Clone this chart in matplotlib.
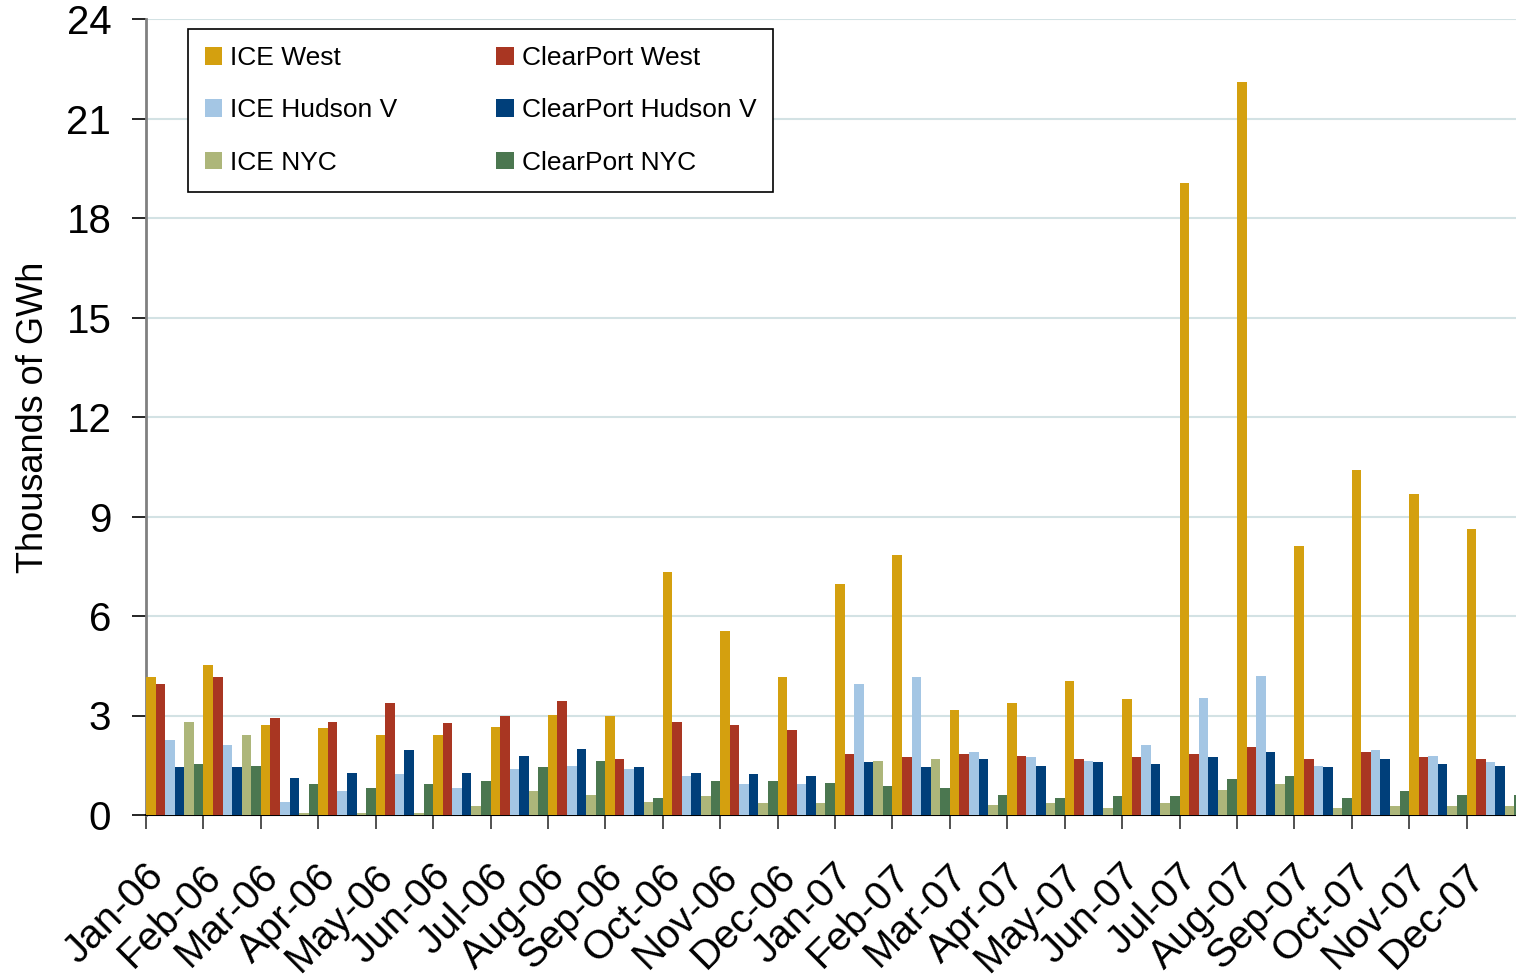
import matplotlib
matplotlib.use("Agg")
import matplotlib.pyplot as plt
import matplotlib.transforms as mtransforms
import numpy as np

plt.rcParams['font.family'] = ['Liberation Sans', 'DejaVu Sans']

# months (categories)
months = ['Jan-06', 'Feb-06', 'Mar-06', 'Apr-06', 'May-06', 'Jun-06',
          'Jul-06', 'Aug-06', 'Sep-06', 'Oct-06', 'Nov-06', 'Dec-06',
          'Jan-07', 'Feb-07', 'Mar-07', 'Apr-07', 'May-07', 'Jun-07',
          'Jul-07', 'Aug-07', 'Sep-07', 'Oct-07', 'Nov-07', 'Dec-07']

# thousands of GWh
ice_west = [4.16, 4.52, 2.71, 2.62, 2.41, 2.41, 2.65, 3.01, 2.98, 7.33, 5.55, 4.16,
            6.96, 7.84, 3.17, 3.38, 4.04, 3.50, 19.05, 22.1, 8.11, 10.40, 9.68, 8.62]
cp_west = [3.95, 4.16, 2.92, 2.80, 3.38, 2.77, 2.98, 3.44, 1.69, 2.80, 2.71, 2.56,
           1.84, 1.75, 1.84, 1.78, 1.69, 1.75, 1.84, 2.05, 1.69, 1.90, 1.75, 1.69]
ice_hudson = [2.26, 2.11, 0.39, 0.72, 1.24, 0.81, 1.39, 1.48, 1.39, 1.18, 0.93, 0.93,
              3.95, 4.16, 1.90, 1.75, 1.63, 2.11, 3.53, 4.19, 1.48, 1.96, 1.78, 1.60]
cp_hudson = [1.45, 1.45, 1.12, 1.27, 1.96, 1.27, 1.78, 1.99, 1.45, 1.27, 1.24, 1.18,
             1.60, 1.45, 1.69, 1.48, 1.60, 1.54, 1.75, 1.90, 1.45, 1.69, 1.54, 1.48]
ice_nyc = [2.80, 2.41, 0.06, 0.06, 0.06, 0.27, 0.72, 0.60, 0.39, 0.57, 0.36, 0.36,
           1.63, 1.69, 0.30, 0.36, 0.21, 0.36, 0.75, 0.93, 0.21, 0.27, 0.27, 0.27]
cp_nyc = [1.54, 1.48, 0.93, 0.81, 0.93, 1.02, 1.45, 1.63, 0.51, 1.02, 1.02, 0.96,
          0.87, 0.81, 0.60, 0.51, 0.57, 0.57, 1.09, 1.18, 0.51, 0.72, 0.60, 0.60]

series = [
    ('ICE West', ice_west, '#D4A00F'),
    ('ClearPort West', cp_west, '#A93622'),
    ('ICE Hudson V', ice_hudson, '#A4C6E4'),
    ('ClearPort Hudson V', cp_hudson, '#003F7A'),
    ('ICE NYC', ice_nyc, '#ADB67A'),
    ('ClearPort NYC', cp_nyc, '#4B7750'),
]

fig = plt.figure(figsize=(15.16, 9.76), dpi=100)
ax = fig.add_axes([146 / 1516, 161 / 976, 1370 / 1516, 796 / 976])

x = np.arange(len(months))
n = len(series)
w = 1.0 / n
bars = {}
for j, (name, vals, col) in enumerate(series):
    bars[name] = ax.bar(x + (j + 0.5) * w, vals, width=w, color=col,
                        label=name, zorder=3, linewidth=0)

ax.set_ylim(0, 24)
ax.set_xlim(0, 23.86)
ax.set_yticks(np.arange(0, 25, 3))
ax.yaxis.grid(True, color='#D3E2E4', linewidth=1.5, zorder=0)

for s in ['top', 'right']:
    ax.spines[s].set_visible(False)
ax.spines['left'].set_color('#808080')
ax.spines['left'].set_linewidth(2)
ax.spines['bottom'].set_color('black')
ax.spines['bottom'].set_linewidth(1.5)

ax.tick_params(axis='y', labelsize=29, length=10, width=1.2, pad=15, direction='out')

# labels centred on each month, tick marks at month boundaries
ax.set_xticks(x + 0.5)
ax.set_xticklabels(months, rotation=45, ha='right', va='center',
                   rotation_mode='anchor', fontsize=29)
ax.tick_params(axis='x', which='major', length=0, pad=40)
shift = mtransforms.ScaledTranslation(-17 / 100, 0, fig.dpi_scale_trans)
for lab in ax.get_xticklabels():
    lab.set_transform(lab.get_transform() + shift)
ax.set_xticks(np.arange(0, 24), minor=True)
ax.tick_params(axis='x', which='minor', length=10, width=1.2, color='#333333')

ax.set_ylabel('Thousands of GWh', fontsize=26, labelpad=11)

order = ['ICE West', 'ICE Hudson V', 'ICE NYC',
         'ClearPort West', 'ClearPort Hudson V', 'ClearPort NYC']
leg = ax.legend([bars[k] for k in order], order, ncol=2,
                loc='upper left', bbox_to_anchor=(188 / 1516, 1 - 29 / 976),
                bbox_transform=fig.transFigure, borderaxespad=0,
                fontsize=19, frameon=True, fancybox=False, framealpha=1,
                handlelength=0.65, handleheight=0.65, handletextpad=0.3,
                labelspacing=1.07, columnspacing=3.75, borderpad=0.65)
leg.get_frame().set_edgecolor('black')
leg.get_frame().set_linewidth(1.2)

fig.savefig('out.png', dpi=100)
